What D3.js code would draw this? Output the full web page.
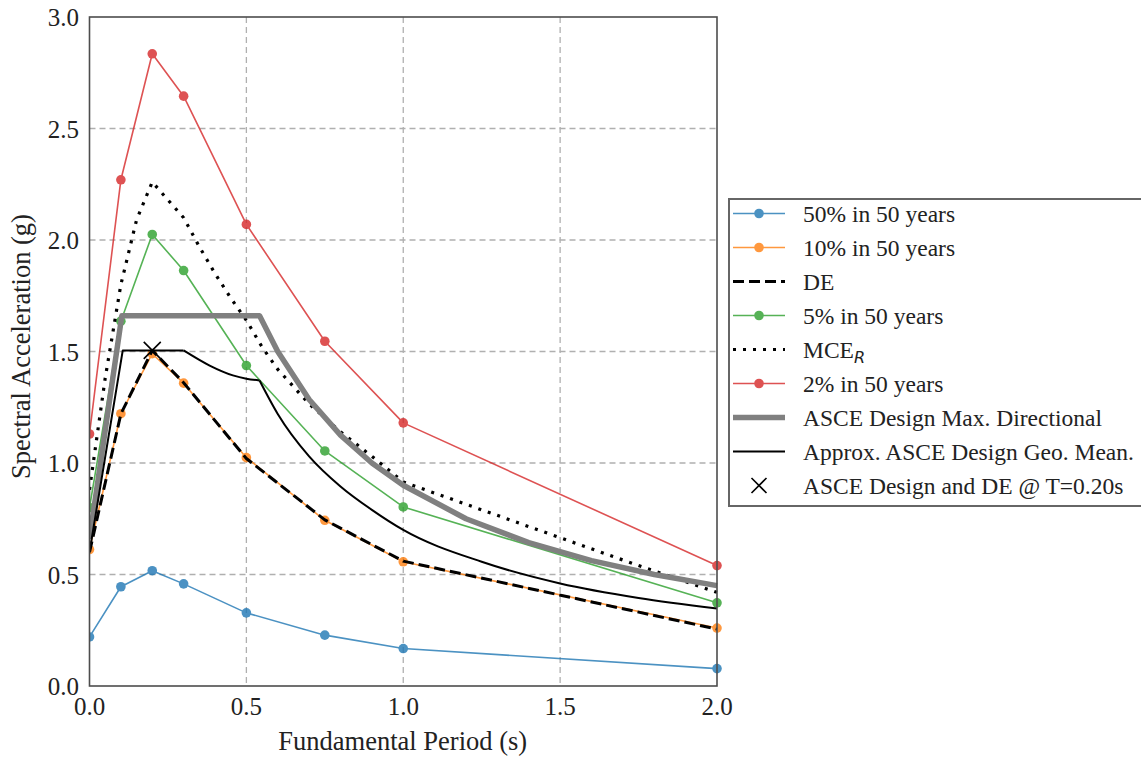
<!DOCTYPE html>
<html>
<head>
<meta charset="utf-8">
<script src="https://cdn.jsdelivr.net/npm/d3@7"></script>
<style>
  body { margin: 0; background: #fff; }
  svg { display: block; font-family: "Liberation Serif", "Times New Roman", serif; }
</style>
</head>
<body>
<svg id="chart" width="1141" height="759"></svg>
<script>
// hazard-level spectra (markers at the computed periods)
const hazardPeriods = [0, 0.1, 0.2, 0.3, 0.5, 0.75, 1.0, 2.0];
const sa50in50 = [0.22, 0.445, 0.517, 0.458, 0.328, 0.228, 0.168, 0.078];
const sa10in50 = [0.612, 1.221, 1.49, 1.358, 1.024, 0.743, 0.557, 0.26];
const sa5in50 = [0.80, 1.636, 2.025, 1.863, 1.437, 1.054, 0.803, 0.373];
const sa2in50 = [1.13, 2.27, 2.835, 2.645, 2.07, 1.546, 1.18, 0.54];
const saDE = [0.60, 1.22, 1.505, 1.36, 1.02, 0.745, 0.56, 0.255];

// MCE_R curve
const mcePeriods = [0, 0.05, 0.1, 0.15, 0.2, 0.25, 0.3, 0.35, 0.4, 0.45, 0.5, 0.55, 0.6, 0.7, 0.8, 0.9, 1.0, 1.25, 1.5, 1.75, 2.0];
const mceValues = [0.88, 1.38, 1.80, 2.09, 2.26, 2.18, 2.10, 1.97, 1.85, 1.74, 1.64, 1.52, 1.42, 1.265, 1.14, 1.03, 0.915, 0.79, 0.665, 0.54, 0.42];

// ASCE design spectra
const maxDirPeriods = [0, 0.103, 0.542, 0.6, 0.7, 0.8, 0.9, 1.0, 1.2, 1.4, 1.6, 1.8, 2.0];
const maxDirValues = [0.66, 1.66, 1.66, 1.50, 1.285, 1.125, 1.0, 0.90, 0.75, 0.643, 0.5625, 0.50, 0.45];
// geo-mean spectrum is drawn in three pieces: ramp/plateau, soft drop, long-period tail
const geoMeanPeriods = [[0, 0.106, 0.3], [0.3, 0.383, 0.457, 0.5, 0.542], [0.542, 0.6, 0.7, 0.8, 0.9, 1.0, 1.25, 1.5, 1.75, 2.0]];
const geoMeanValues = [[0.60, 1.505, 1.505], [1.505, 1.437, 1.393, 1.378, 1.37], [1.37, 1.22, 1.03, 0.895, 0.79, 0.70, 0.557, 0.46, 0.395, 0.348]];

const designPoint = [0.2, 1.505];

const xTicks = [0, 0.5, 1.0, 1.5, 2.0];
const yTicks = [0, 0.5, 1.0, 1.5, 2.0, 2.5, 3.0];

const legendLabels = [
  '50% in 50 years',
  '10% in 50 years',
  'DE',
  '5% in 50 years',
  'MCE',
  '2% in 50 years',
  'ASCE Design Max. Directional',
  'Approx. ASCE Design Geo. Mean.',
  'ASCE Design and DE @ T=0.20s'
];

const plot = { left: 89.5, right: 717, top: 17, bottom: 686 };

const svg = d3.select('#chart');

const x = d3.scaleLinear()
  .domain([0, 2])
  .range([plot.left, plot.right])
  ;

const y = d3.scaleLinear()
  .domain([0, 3])
  .range([plot.bottom, plot.top])
  ;

// grid
const grid = svg.append('g')
  .attr('stroke', '#b0b0b0')
  .attr('stroke-width', 1.3)
  .attr('stroke-dasharray', '6,4')
  ;

grid.selectAll('.gx')
  .data(xTicks.slice(1, -1))
  .join('line')
  .attr('x1', d => x(d))
  .attr('x2', d => x(d))
  .attr('y1', plot.top)
  .attr('y2', plot.bottom)
  ;

grid.selectAll('.gy')
  .data(yTicks.slice(1, -1))
  .join('line')
  .attr('x1', plot.left)
  .attr('x2', plot.right)
  .attr('y1', d => y(d))
  .attr('y2', d => y(d))
  ;

svg.append('clipPath')
  .attr('id', 'plot-clip')
  .append('rect')
  .attr('x', plot.left)
  .attr('y', plot.top - 10)
  .attr('width', plot.right - plot.left + 8)
  .attr('height', plot.bottom - plot.top + 10)
  ;

const layer = svg.append('g').attr('clip-path', 'url(#plot-clip)');

function zipPoints(xs, ys) {
  return xs.map((t, i) => [t, ys[i]]);
}

const line = d3.line()
  .x(d => x(d[0]))
  .y(d => y(d[1]))
  ;

const smoothLine = d3.line()
  .x(d => x(d[0]))
  .y(d => y(d[1]))
  .curve(d3.curveMonotoneX)
  ;

const geoMeanPieces = geoMeanPeriods.map((ts, i) => zipPoints(ts, geoMeanValues[i]));

// draw order follows the legend
const series = [
  { pieces: [zipPoints(hazardPeriods, sa50in50)], color: '#1f77b4', width: 1.6, opacity: 0.8, markers: true },
  { pieces: [zipPoints(hazardPeriods, sa10in50)], color: '#ff7f0e', width: 1.6, opacity: 0.8, markers: true },
  { pieces: [zipPoints(hazardPeriods, saDE)], color: '#000', width: 3, dash: '11,5' },
  { pieces: [zipPoints(hazardPeriods, sa5in50)], color: '#2ca02c', width: 1.6, opacity: 0.8, markers: true },
  { pieces: [zipPoints(mcePeriods, mceValues)], color: '#000', width: 3.2, dash: '3,7' },
  { pieces: [zipPoints(hazardPeriods, sa2in50)], color: '#d62728', width: 1.6, opacity: 0.8, markers: true },
  { pieces: [zipPoints(maxDirPeriods, maxDirValues)], color: '#808080', width: 5.5 },
  { pieces: geoMeanPieces, color: '#000', width: 2, smooth: [false, true, true] }
];

series.forEach(s => {
  const g = layer.append('g').attr('opacity', s.opacity || 1);

  s.pieces.forEach((pts, i) => {
    const gen = s.smooth && s.smooth[i] ? smoothLine : line;
    g.append('path')
      .attr('d', gen(pts))
      .attr('fill', 'none')
      .attr('stroke', s.color)
      .attr('stroke-width', s.width)
      .attr('stroke-linejoin', 'round')
      .attr('stroke-dasharray', s.dash || null)
      ;
  });

  if (s.markers) {
    g.selectAll('circle')
      .data(s.pieces[0])
      .join('circle')
      .attr('cx', d => x(d[0]))
      .attr('cy', d => y(d[1]))
      .attr('r', 4.8)
      .attr('fill', s.color)
      ;
  }
});

function drawCross(sel, cx, cy, half) {
  sel.append('path')
    .attr('d', `M${cx - half},${cy - half}L${cx + half},${cy + half}M${cx - half},${cy + half}L${cx + half},${cy - half}`)
    .attr('stroke', '#000')
    .attr('stroke-width', 1.6)
    .attr('fill', 'none')
    ;
}

drawCross(svg, x(designPoint[0]), y(designPoint[1]), 8.5);

// frame
svg.append('rect')
  .attr('x', plot.left)
  .attr('y', plot.top)
  .attr('width', plot.right - plot.left)
  .attr('height', plot.bottom - plot.top)
  .attr('fill', 'none')
  .attr('stroke', '#4d4d4d')
  .attr('stroke-width', 1.6)
  ;

// tick labels
svg.selectAll('.xt')
  .data(xTicks)
  .join('text')
  .attr('x', d => x(d))
  .attr('y', 715)
  .attr('text-anchor', 'middle')
  .attr('font-size', 25)
  .attr('fill', '#222')
  .text(d => d.toFixed(1))
  ;

svg.selectAll('.yt')
  .data(yTicks)
  .join('text')
  .attr('x', 79)
  .attr('y', d => y(d) + 9)
  .attr('text-anchor', 'end')
  .attr('font-size', 25)
  .attr('fill', '#222')
  .text(d => d.toFixed(1))
  ;

svg.append('text')
  .attr('x', (plot.left + plot.right) / 2 - 0.5)
  .attr('y', 750)
  .attr('text-anchor', 'middle')
  .attr('font-size', 26.5)
  .attr('fill', '#222')
  .text('Fundamental Period (s)')
  ;

svg.append('text')
  .attr('transform', `translate(30,${(plot.top + plot.bottom) / 2 - 5}) rotate(-90)`)
  .attr('text-anchor', 'middle')
  .attr('font-size', 26.5)
  .attr('fill', '#222')
  .text('Spectral Acceleration (g)')
  ;

// legend
const legend = svg.append('g');
const rowH = 34;
const row0 = 213.5;

legend.append('rect')
  .attr('x', 729)
  .attr('y', 199)
  .attr('width', 430)
  .attr('height', 307)
  .attr('fill', '#fff')
  .attr('stroke', '#666')
  .attr('stroke-width', 2)
  ;

legendLabels.forEach((label, i) => {
  const cy = row0 + i * rowH;
  const s = series[i];
  const item = legend.append('g');

  if (s) {
    const h = item.append('g').attr('opacity', s.opacity || 1);
    h.append('line')
      .attr('x1', 733)
      .attr('x2', 785)
      .attr('y1', cy)
      .attr('y2', cy)
      .attr('stroke', s.color)
      .attr('stroke-width', s.width)
      .attr('stroke-dasharray', s.dash || null)
      ;
    if (s.markers) {
      h.append('circle')
        .attr('cx', 759)
        .attr('cy', cy)
        .attr('r', 4.8)
        .attr('fill', s.color)
        ;
    }
  } else {
    drawCross(item, 759, cy, 7.5);
  }

  const text = item.append('text')
    .attr('x', 803)
    .attr('y', cy + 8)
    .attr('font-size', 23.5)
    .attr('fill', '#222')
    .text(label)
    ;

  if (label === 'MCE') {
    text.append('tspan')
      .attr('font-family', '"DejaVu Sans", sans-serif')
      .attr('font-style', 'italic')
      .attr('font-size', 16)
      .attr('dy', 5)
      .attr('fill', '#222')
      .text('R')
      ;
  }
});
</script>
</body>
</html>
